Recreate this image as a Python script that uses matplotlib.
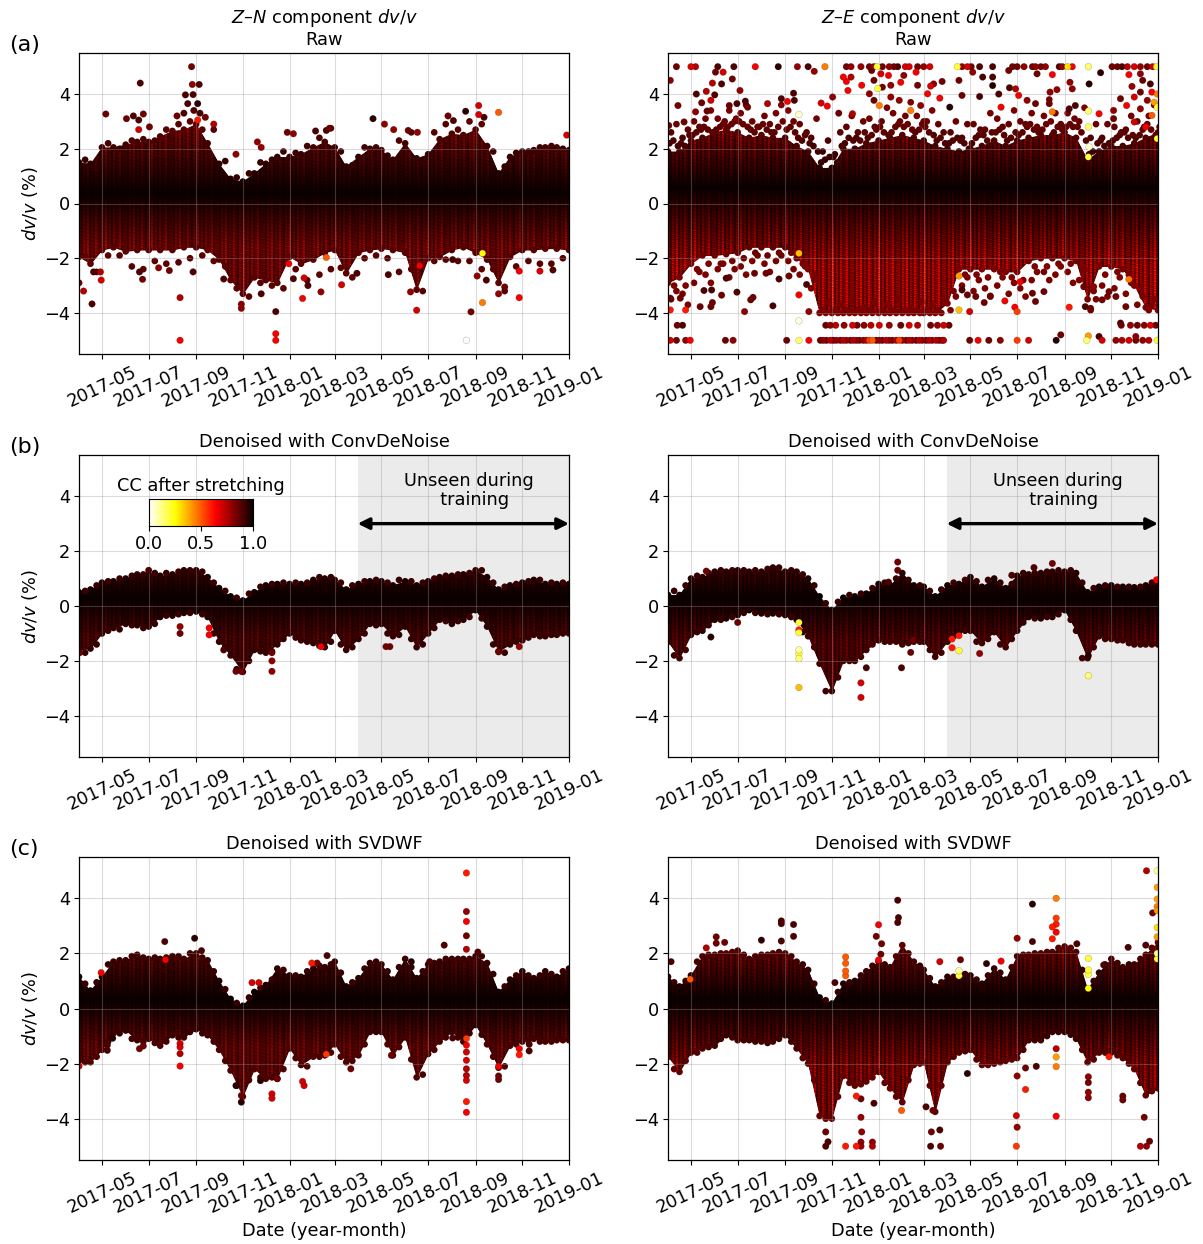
import numpy as np, pandas as pd
import matplotlib
matplotlib.use("Agg")
import matplotlib.pyplot as plt
import matplotlib.dates as mdates

START = np.datetime64("2017-04-01")
MONTHS = pd.date_range("2017-04-01", "2018-12-01", freq="MS")
KNOTS = []
for m in MONTHS:
    KNOTS += [m, m + pd.Timedelta(days=15)]
KNOTS.append(pd.Timestamp("2019-01-01"))

ZN_RAW_HI = [1.5,1.45,2.05,2.05,2.15,2.25,2.25,2.45,2.65,2.7,2.9,2.2,1.45,.9,.8,1.1,1.45,1.7,1.7,1.8,2.05,2.25,2.05,1.35,1.7,2.0,1.95,1.6,2.2,1.65,1.8,2.35,2.55,2.5,2.7,2.1,1.1,1.7,1.9,1.95,2.05,2.05,1.95]
ZN_RAW_LO = [-1.95,-2.2,-1.7,-1.6,-1.75,-1.7,-1.7,-1.7,-1.7,-1.6,-1.6,-1.7,-2.05,-2.8,-3.3,-2.7,-2.8,-2.9,-1.95,-2.2,-2.05,-1.8,-1.7,-2.55,-1.8,-1.7,-1.65,-1.7,-1.8,-3.15,-2.0,-1.95,-1.7,-1.6,-1.8,-2.05,-2.9,-1.95,-1.7,-1.7,-1.65,-1.65,-1.7]
ZN_RAW_HI2 = [1.6,1.3,2.2,2.0,2.3,2.35,2.3,2.7,2.9,3.0,2.7,2.7,1.55,.95,1.1,1.5,1.6,1.9,1.85,2.1,2.4,2.75,1.9,1.4,2.05,2.05,1.75,2.3,2.6,1.5,2.6,2.9,2.7,3.0,2.9,1.9,1.35,1.85,1.9,2.05,2.1,2.0]
ZN_RAW_LO2 = [-1.95,-2.5,-1.9,-1.9,-2.3,-2.4,-2.1,-2.2,-2.15,-2.0,-1.9,-2.1,-2.3,-3.1,-3.4,-2.9,-3.0,-3.1,-2.4,-2.8,-2.6,-2.4,-2.35,-2.7,-2.0,-1.9,-2.0,-2.5,-2.4,-3.2,-2.1,-2.05,-2.1,-2.1,-2.4,-2.4,-3.2,-2.3,-2.1,-2.2,-2.2,-2.0]
ZN_RAW_OUT = [(147,5,.85),(80,4.4,.9),(148,4.35,.8),(157,4.35,.9),(139,3.97,.9),(149,3.98,.9),(35,3.27,.85),(155,3.65,.95),(142,3.65,.9),(62,3.1,.85),(71,3.2,.9),(78,3.05,.9),(84,3.27,.85),(137,3.3,.9),(150,3.4,.9),(158,3.3,.9),(165,3.15,.85),(155,3.05,.6),(176,2.9,.75),(128,3.2,.85),(92,2.8,.85),(78,2.7,.7),(205,1.8,.8),(233,2.25,.8),(238,2.05,.8),(272,2.6,.85),(280,2.55,.8),(309,2.65,.9),(323,2.67,.9),(327,2.75,.85),(384,3.1,.95),(399,2.9,.8),(411,2.7,.8),(430,2.67,.85),(442,2.6,.8),(482,3.2,.85),(489,3.03,.9),(505,3.37,.95),(522,3.58,.7),(522,3.25,.7),(529,3.15,.9),(548,3.33,.5),(637,2.5,.7),
(0,-2.9,.85),(6,-3.2,.75),(17,-3.67,.9),(29,-2.8,.7),(28,-2.5,.75),(19,-2.5,.9),(132,-3.44,.75),(132,-5,.65),(83,-2.77,.85),(79,-2.5,.9),(104,-2.35,.8),(149,-2.5,.9),(118,-2.45,.85),(189,-2.76,.9),(212,-3.68,.8),(212,-3.83,.8),(238,-3.3,.9),(257,-3.95,.9),(257,-4.76,.65),(257,-5,.65),(274,-2.2,.65),(280,-2.75,.9),(294,-2.72,.7),(292,-3.47,.65),(299,-3.0,.9),(316,-3.23,.8),(323,-1.97,.5),(343,-2.97,.7),(363,-2.55,.9),(404,-2.6,.9),(433,-3.23,.8),(441,-3.9,.7),(445,-2.27,.65),(488,-2.05,.9),(506,-5,0.0),(512,-3.96,.85),(520,-2.65,.8),(527,-1.82,.25),(527,-3.62,.45),(532,-2.8,.9),(548,-3.3,.8),(556,-3.05,.85),(575,-3.44,.65),(575,-2.47,.65),(602,-2.47,.7),(619,-2.43,.9)]

ZE_RAW_HI = [1.9,1.9,2.3,2.4,2.6,2.7,2.6,2.4,2.5,2.4,2.4,2.1,1.9,1.3,1.3,2.0,2.0,2.2,2.3,2.4,2.5,2.4,2.3,2.1,2.0,1.9,2.0,2.1,2.3,2.1,2.3,2.4,2.5,2.5,2.6,2.4,1.6,1.9,2.1,2.1,2.2,2.4,2.6]
ZE_RAW_LO = [-2.9,-2.7,-2.2,-1.9,-1.9,-1.85,-1.8,-1.6,-1.6,-1.6,-1.6,-2.0,-2.4,-4,-4,-4,-4,-4,-4,-4,-4,-4,-4,-4,-3.65,-2.4,-2.4,-2.4,-2.4,-2.5,-2.5,-2.1,-2.0,-2.0,-2.0,-2.1,-3.5,-2.3,-2.3,-2.4,-3.0,-3.8,-3.9]
ZE_RAW_UP_A = [2.6,2.4,3.0,3.1,3.1,3.4,3.3,3.0,3.2,3.3,3.4,2.9,2.4,1.9,1.8,2.8,2.6,3.1,3.0,3.3,3.2,3.2,3.0,2.9,2.6,2.4,2.9,2.7,3.1,2.9,3.0,3.3,3.2,3.3,3.3,3.0,2.4,2.4,2.8,2.7,3.0,3.2,3.5]
ZE_RAW_UP_B = [2.9,2.7,2.8,3.4,2.9,3.0,3.6,2.8,2.9,3.6,3.0,2.5,3.1,2.3,2.6,3.2,3.0,2.8,3.5,2.9,3.7,2.9,3.4,2.6,3.0,2.9,2.5,3.3,2.8,3.4,2.9,2.8,3.8,2.9,2.8,3.5,2.9,2.9,2.5,3.2,2.7,3.6,3.1]
ZE_RAW_UP_C = [2.3,2.1,2.6,2.7,2.8,2.9,2.9,2.6,2.7,2.8,2.8,2.3,2.1,1.6,1.5,2.4,2.3,2.5,2.6,2.8,2.9,2.7,2.6,2.4,2.3,2.2,2.4,2.3,2.7,2.4,2.6,2.7,2.9,2.8,2.9,2.6,1.9,2.1,2.4,2.4,2.5,2.7,2.9]
ZE_RAW_UP_D = [2.1,2.5,2.7,2.6,3.0,3.1,2.8,2.8,2.6,3.0,2.6,2.6,1.9,1.7,2.1,2.3,2.6,2.7,2.5,3.0,2.7,3.0,2.5,2.2,2.4,2.0,2.7,2.6,2.5,2.6,2.8,2.6,3.0,2.7,3.1,2.3,2.2,2.2,2.6,2.5,2.8,2.5,3.2]
ZE_RAW_UP_E = [2.2,2.2,2.5,2.8,2.7,2.8,3.0,2.7,2.9,2.6,2.7,2.4,2.2,1.5,1.7,2.2,2.4,2.4,2.8,2.6,2.8,2.6,2.8,2.3,2.2,2.3,2.2,2.5,2.6,2.3,2.5,2.9,2.7,2.6,2.8,2.8,1.8,2.3,2.3,2.6,2.4,2.9,2.8]
ZE_RAW_LO_A = [-3.5,-3.3,-2.9,-2.6,-2.4,-2.7,-2.3,-2.1,-2.2,-2.1,-2.1,-2.6,-3.1,-3.9,-3.9,-3.9,-3.9,-3.9,-3.9,-3.9,-3.9,-3.9,-3.9,-3.9,-3.9,-3.0,-3.2,-3.1,-3.0,-3.3,-3.1,-2.8,-2.5,-2.6,-2.5,-2.8,-3.9,-3.0,-3.1,-3.3,-3.7,-3.9,-3.9]
ZE_RAW_LO_B = [-3.2,-3.7,-2.5,-2.9,-2.2,-2.4,-2.6,-1.9,-2.5,-1.9,-2.4,-2.3,-2.8,-3.6,-3.7,-3.5,-3.8,-3.6,-3.7,-3.5,-3.8,-3.6,-3.7,-3.5,-3.4,-2.7,-2.8,-3.4,-2.7,-2.9,-3.4,-2.5,-2.8,-2.3,-2.9,-2.4,-3.5,-3.4,-2.7,-2.9,-3.4,-3.5,-3.6]
ZE_RAW_LO_C = [-3.0,-3.0,-2.4,-2.2,-2.2,-2.1,-2.0,-1.8,-1.9,-1.8,-1.8,-2.2,-2.6,-4,-4,-4,-4,-4,-4,-4,-4,-4,-4,-4,-3.2,-2.6,-2.6,-2.7,-2.5,-2.7,-2.8,-2.3,-2.3,-2.2,-2.2,-2.3,-3.2,-2.6,-2.5,-2.6,-3.1,-3.7,-3.8]
ZE_RAW_TOP = [(11,.85),(30,.7),(36,.75),(65,.9),(86,.9),(114,.65),(144,.95),(169,.8),(183,.9),(205,.45),(233,.85),(239,.8),(252,.8),(263,.85),(269,.8),(273,.2),(280,.85),(289,.8),(295,.85),(300,.9),(310,.7),(315,.7),(326,.85),(334,.8),(342,.7),(378,.2),(384,.8),(391,.7),(396,.85),(407,.9),(424,.9),(450,.85),(456,.85),(465,.8),(476,.85),(480,.8),(487,.85),(493,.8),(511,.9),(515,.8),(522,.3),(528,.65),(549,.15),(580,.85),(587,.85),(593,.9),(600,.75),(609,.7),(617,.8),(626,.85),(633,.7),(638,.2)]
ZE_RAW_BOT = [(3,.7),(11,.85),(23,.8),(29,.65),(75,.85),(85,.8),(155,.85),(171,.15),(184,.65),(199,.85),(203,.8),(207,.85),(212,.75),(216,.85),(220,.8),(225,.85),(229,.75),(233,.8),(238,.85),(242,.75),(246,.8),(250,.85),(255,.8),(259,.75),(263,.55),(267,.5),(272,.85),(276,.8),(280,.85),(285,.75),(289,.8),(293,.85),(298,.75),(302,.55),(306,.8),(311,.85),(315,.75),(319,.8),(324,.85),(328,.75),(332,.8),(337,.85),(341,.75),(345,.8),(350,.75),(354,.85),(358,.8),(360,.75),(394,.85),(405,.65),(419,.85),(434,.8),(456,.55),(471,.7),(507,.95),(547,.15),(567,.7),(585,.8),(593,.75),(602,.7),(611,.85),(620,.8),(628,.75),(639,.2)]
ZE_RAW_MID = [(12,.85),(19,.9),(206,.85),(212,.8),(219,.75),(230,.8),(241,.7),(247,.85),(256,.8),(265,.75),(276,.7),(289,.8),(304,.85),(315,.7),(326,.75),(343,.85),(352,.8),(360,.7),(367,.85),(592,.85),(604,.8),(613,.85),(622,.8),(630,.7),(637,.85)]
ZE_RAW_OUT = [(3,4.5,.8),(62,4.8,.85),(72,4.8,.7),(58,4.4,.75),(70,4.37,.9),(84,4.55,.85),(37,4.0,.9),(50,4.1,.75),(61,3.97,.9),(94,4.13,.8),(44,3.68,.85),(56,3.77,.7),(13,3.58,.85),(36,3.35,.8),(51,3.38,.85),(80,3.58,.85),(90,3.65,.9),(101,3.74,.9),(104,3.52,.85),(130,3.65,.75),(148,3.83,.9),(156,3.73,.65),(164,4.03,.9),(165,3.77,.9),(171,3.25,.05),(191,4.83,.8),(200,3.67,.7),(208,3.56,.65),(215,3.89,.8),(223,3.3,.85),(229,4.62,.65),(239,4.62,.75),(233,4.46,.65),(253,4.32,.65),(235,4.13,.65),(241,3.28,.75),(269,4.5,.85),(266,4.86,.85),(288,4.68,.65),(278,4.74,.7),(280,4.25,.85),(274,4.2,.2),(291,4.32,.8),(304,4.43,.65),(308,4.68,.8),(324,4.8,.65),(326,4.32,.85),(339,4.01,.65),(347,4.37,.8),(358,4.46,.85),(343,4.29,.7),(355,3.85,.65),(263,4.01,.8),(269,3.77,.85),(276,3.58,.45),(291,3.89,.8),(302,3.77,.8),(317,3.4,.45),(330,3.58,.8),(368,3.52,.95),(384,3.95,.85),(398,4.8,.8),(407,3.91,.9),(380,4.5,.85),(411,4.62,.9),(424,4.62,.9),(424,4.31,.95),(445,4.86,.85),(446,4.23,.9),(454,4.19,.75),(458,3.95,.65),(469,3.77,.8),(480,3.65,.85),(432,4.0,.9),(435,3.52,.65),(482,4.74,.85),(502,4.71,.65),(499,4.07,.8),(508,4.16,.8),(498,3.65,.85),(502,3.35,.45),(525,4.43,.8),(528,4.19,.8),(550,4.37,.95),(565,4.78,.95),(549,3.38,.15),(549,2.8,.15),(532,3.58,.9),(524,3.46,.9),(550,2.07,.05),(549,1.7,.2),(602,4.71,.65),(617,4.74,.8),(620,4.5,.85),(606,4.28,.8),(630,4.37,.9),(617,4.07,.85),(632,4.07,.65),(591,3.83,.85),(609,3.89,.7),(626,3.77,.8),(635,3.7,.4),(582,3.4,.8),(599,3.58,.65),(617,3.46,.8),(632,3.22,.5),(639,3.52,.2),(639,4.0,.45),(639,2.37,.2),(563,3.28,.65),(582,3.1,.85),(609,2.98,.7),(624,2.8,.65),(1,2.85,.85),(21,2.98,.85),
(47,-3.18,.9),(57,-3.16,.9),(90,-3.24,.9),(70,-3.35,.85),(42,-3.77,.85),(56,-3.77,.85),(58,-3.62,.85),(108,-3.52,.85),(111,-3.43,.85),(100,-3.95,.8),(137,-3.74,.9),(76,-2.73,.9),(113,-2.55,.85),(128,-2.55,.85),(145,-2.76,.9),(158,-2.65,.85),(171,-3.34,.65),(181,-2.96,.9),(184,-3.95,.8),(171,-4.29,.03),(3,-3.46,.85),(16,-3.46,.85),(3,-3.89,.6),(23,-3.89,.6),(171,-1.82,.35),(380,-2.65,.4),(380,-3.89,.35),(394,-3.95,.7),(384,-3.16,.9),(391,-3.34,.85),(402,-3.4,.85),(413,-3.62,.85),(421,-3.38,.85),(440,-3.56,.65),(453,-3.79,.65),(456,-3.95,.55),(460,-2.86,.65),(476,-3.28,.85),(480,-3.58,.85),(491,-3.22,.85),(524,-3.79,.6),(543,-3.04,.85),(545,-3.77,.9),(552,-3.83,.85),(556,-3.04,.8),(567,-3.52,.85),(576,-3.22,.85),(585,-3.4,.85),(598,-3.77,.85),(602,-2.77,.45),(591,-4.37,.9),(611,-4.86,.8),(513,-4.8,.85),(549,-4.84,.4),(563,-4.86,.9)]

ZN_CONV_HI = [.5,.6,.85,.9,1.0,1.15,1.15,1.1,1.15,1.3,1.3,1.05,.65,.35,.2,.5,.75,.8,.8,.8,.95,1.0,.95,.6,.8,.9,.9,.75,.9,.75,.9,1.05,1.1,1.15,1.3,1.05,.6,.75,.85,.95,.8,.8,.8]
ZN_CONV_LO = [-1.6,-1.55,-1.0,-.8,-.65,-.7,-.75,-.4,-.35,-.25,-.2,-.4,-1.3,-1.8,-2.4,-1.6,-1.7,-1.4,-1.0,-1.25,-1.35,-1.5,-.9,-1.6,-1.2,-.65,-.65,-1.1,-.75,-1.5,-1.0,-.5,-.65,-.5,-.15,-.75,-1.65,-1.4,-1.25,-1.05,-1.1,-1.05,-1.0]
ZN_CONV_HI2 = [.55,.75,.9,1.0,1.1,1.15,1.2,1.2,1.25,1.3,1.25,.85,.55,.3,.45,.7,.8,.85,.85,.85,1.05,1.05,.85,.75,.9,.95,.85,.95,.9,.85,1.0,1.1,1.15,1.2,1.3,.85,.7,.8,.9,.95,.85,.85]
ZN_CONV_LO2 = [-1.7,-1.4,-.9,-.85,-.7,-.8,-.65,-.35,-.3,-.25,-.3,-1.0,-1.5,-2.3,-2.0,-1.65,-1.65,-1.2,-1.15,-1.3,-1.45,-1.3,-1.4,-1.5,-1.0,-.7,-1.0,-1.05,-1.2,-1.4,-.8,-.55,-.55,-.4,-.45,-1.4,-1.7,-1.3,-1.15,-1.1,-1.05,-1.0]
ZN_CONV_OUT = [(91,1.3,.9),(132,-.75,.8),(132,-1.0,.85),(170,-.8,.65),(170,-1.05,.65),(189,-1.6,.9),(252,-1.7,.85),(252,-2.0,.8),(252,-2.38,.8),(316,-1.48,.65),(406,-1.48,.85),(401,-1.48,.85),(548,-1.67,.85),(575,-1.48,.8),(1,-1.7,.85),(205,-2.38,.85),(212,-2.38,.85)]

ZE_CONV_HI = [.4,.4,1.0,1.05,1.25,1.25,1.3,1.25,1.25,1.4,1.25,1.25,1.0,.35,-.15,.3,.35,.45,.8,.75,1.2,.75,.7,.35,.75,.8,1.05,.7,1.0,.65,1.1,1.15,1.2,1.25,1.25,1.2,.5,.7,.75,.7,.68,.75,.95]
ZE_CONV_LO = [-1.3,-1.9,-1.05,-.9,-.5,-.45,-.33,-.15,-.27,-.27,-.33,-.5,-1.1,-2.1,-3.1,-2.0,-2.0,-1.6,-1.25,-1.3,-1.4,-1.3,-1.3,-1.85,-1.3,-.95,-.9,-1.35,-.95,-1.5,-.9,-.4,-.45,-.4,-.15,-.9,-1.9,-1.1,-1.2,-1.25,-1.4,-1.4,-1.4]
ZE_CONV_HI2 = [.55,.75,1.1,1.2,1.3,1.3,1.3,1.3,1.35,1.4,1.3,1.15,.75,.1,.15,.4,.45,.65,.85,1.0,.95,.75,.55,.6,.85,.95,.9,.95,.85,.8,1.2,1.2,1.25,1.3,1.3,.85,.65,.75,.7,.7,.7,.85]
ZE_CONV_LO2 = [-1.8,-1.6,-.95,-.7,-.5,-.4,-.25,-.25,-.3,-.3,-.4,-.95,-1.5,-3.1,-2.6,-2.0,-1.85,-1.4,-1.3,-1.3,-1.35,-1.3,-1.6,-1.7,-1.1,-.9,-1.3,-1.2,-1.4,-1.2,-.6,-.45,-.4,-.3,-.5,-1.9,-1.5,-1.2,-1.25,-1.35,-1.4,-1.4]
ZE_CONV_OUT = [(50,1.27,.85),(300,1.6,.85),(300,1.3,.85),(288,.87,.9),(449,1.12,.9),(478,1.4,.9),(502,1.55,.85),(638,.95,.65),(56,-1.13,.95),(91,-.6,.85),(171,-.6,.2),(171,-.87,.6),(171,-.97,.2),(171,-1.6,.1),(171,-1.73,.2),(171,-1.92,.15),(171,-2.97,.35),(252,-2.8,.7),(252,-3.33,.7),(259,-2.25,.9),(305,-2.25,.9),(317,-1.69,.85),(320,-1.24,.85),(371,-1.2,.6),(371,-1.52,.6),(380,-1.08,.6),(380,-1.63,.2),(549,-2.54,.15),(549,-1.81,.95),(407,-1.73,.8)]

ZN_SVD_HI = [1.15,.65,1.15,1.7,1.75,1.95,1.8,1.8,1.9,1.8,2.0,1.75,1.0,.35,.1,.6,.85,1.45,1.2,1.15,1.45,1.5,1.7,.8,1.1,1.65,1.6,1.05,1.8,1.1,1.6,1.7,1.8,1.8,1.9,1.65,.6,1.05,1.35,1.1,1.35,1.15,1.45]
ZN_SVD_LO = [-1.9,-1.95,-1.5,-.9,-.8,-1.15,-1.1,-1.35,-.97,-1.05,-.75,-.97,-1.5,-2.25,-3.2,-2.2,-2.55,-2.55,-1.45,-2.05,-1.75,-1.7,-1.3,-1.95,-1.7,-.85,-.85,-1.7,-1.05,-2.5,-1.65,-1.2,-.85,-1.2,-.6,-1.3,-2.15,-1.35,-1.2,-1.1,-1.2,-1.15,-1.15]
ZN_SVD_HI2 = [.9,.95,1.6,1.75,1.9,1.85,1.85,1.85,1.9,2.0,1.85,1.35,.7,.2,.4,.75,1.05,1.4,1.2,1.35,1.55,1.6,1.3,.95,1.45,1.7,1.35,1.5,1.5,1.35,1.65,1.8,1.8,1.8,1.9,1.25,.8,1.2,1.2,1.2,1.25,1.35]
ZN_SVD_LO2 = [-1.95,-1.75,-1.2,-.9,-1.1,-1.2,-1.25,-1.2,-1.05,-.85,-.9,-1.2,-1.9,-2.8,-2.6,-2.5,-2.5,-2.2,-1.8,-2.1,-1.75,-1.6,-1.75,-1.9,-1.3,-.85,-1.3,-1.4,-1.85,-2.4,-1.5,-1.05,-1.05,-.9,-.95,-1.75,-2.1,-1.3,-1.15,-1.2,-1.2,-1.15]
ZN_SVD_OUT = [(506,4.92,.6),(506,3.52,.8),(506,3.16,.65),(506,2.64,.85),(506,2.15,.75),(112,2.43,.9),(151,2.55,.95),(160,2.1,.9),(113,1.77,.65),(324,1.92,.9),(304,1.65,.6),(311,1.65,.85),(477,2.3,.9),(521,2.05,.9),(434,1.7,.95),(458,1.7,.9),(226,.94,.7),(235,.94,.7),(29,1.3,.65),
(132,-1.27,.7),(132,-1.4,.7),(132,-1.64,.75),(132,-2.09,.65),(37,-1.33,.9),(37,-1.52,.9),(44,-1.08,.95),(79,-1.46,.85),(84,-1.36,.85),(506,-1.09,.55),(506,-1.33,.65),(506,-1.58,.7),(506,-1.88,.7),(506,-2.19,.75),(506,-2.43,.75),(506,-2.61,.7),(506,-3.38,.6),(506,-3.77,.65),(212,-3.4,.95),(212,-3.16,.85),(205,-2.8,.95),(252,-3.1,.7),(252,-3.26,.7),(292,-2.65,.7),(294,-2.8,.7),(237,-2.62,.95),(259,-2.55,.85),(355,-2.19,.85),(548,-2.1,.65),(548,-2.45,.85),(548,-2.58,.85),(575,-1.46,.65),(575,-1.68,.6),(588,-1.3,.9),(588,-1.54,.9),(323,-1.66,.55),(0,-2.09,.7),(408,-1.7,.85),(488,-1.07,.9)]

ZE_SVD_HI = [1.15,.8,1.2,1.9,1.95,2.0,2.1,1.8,1.95,2.0,2.0,1.7,1.4,.4,.18,.9,1.0,1.35,1.7,1.5,2.3,1.7,1.4,.8,1.15,1.15,1.2,.9,1.45,1.05,1.9,1.95,2.0,2.05,2.25,2.05,.7,1.3,1.8,1.5,1.6,1.95,2.4]
ZE_SVD_LO = [-1.75,-2.3,-1.6,-1.45,-1.35,-.97,-1.15,-1.15,-1.2,-1.2,-.97,-1.45,-2.0,-3.9,-4.0,-2.45,-2.8,-2.65,-2.3,-2.9,-3.4,-2.05,-1.95,-3.75,-1.95,-1.6,-1.5,-2.05,-2.0,-1.9,-1.8,-1.15,-1.15,-.85,-.85,-1.1,-1.95,-1.6,-1.6,-1.8,-2.2,-3.15,-2.9]
ZE_SVD_HI2 = [.95,1.0,1.7,1.95,2.0,2.05,1.95,1.9,1.95,2.05,1.9,1.6,.9,.3,.6,.95,1.2,1.55,1.6,1.9,2.0,1.55,1.1,.95,1.15,1.25,1.05,1.2,1.3,1.5,1.95,2.0,2.05,2.2,2.2,1.4,1.0,1.6,1.65,1.6,1.8,2.2]
ZE_SVD_LO2 = [-2.2,-1.9,-1.6,-1.4,-1.1,-1.05,-1.15,-1.2,-1.25,-1.1,-1.2,-1.8,-2.6,-4,-3.2,-2.7,-2.75,-2.5,-2.7,-3.2,-2.6,-2.0,-2.8,-2.8,-1.75,-1.55,-1.85,-2.05,-1.95,-1.85,-1.5,-1.15,-1.0,-.85,-.95,-1.5,-1.85,-1.6,-1.7,-2.0,-2.7,-3.0]
ZE_SVD_OUT = [(625,5,.75),(639,5,.1),(639,4.4,.4),(639,3.97,.4),(639,3.7,.45),(639,3.55,.4),(633,3.47,.85),(639,2.94,.3),(639,2.6,.4),(639,1.8,.2),(639,2.0,.1),(300,3.93,.9),(301,3.3,.9),(300,3.12,.9),(275,3.04,.65),(272,2.62,.85),(279,2.35,.85),(278,1.97,.85),(275,1.76,.65),(148,3.18,.9),(148,3.08,.9),(164,3.05,.9),(164,2.62,.9),(148,2.45,.9),(122,2.48,.95),(63,2.6,.85),(63,2.37,.85),(74,2.4,.85),(50,2.2,.75),(4,1.7,.9),(232,1.87,.5),(232,1.64,.5),(232,1.36,.5),(232,1.19,.5),(218,.94,.9),(355,1.7,.7),(382,1.77,.85),(380,1.37,.1),(380,1.19,.2),(416,1.63,.95),(435,1.72,.65),(456,2.55,.8),(476,3.79,.95),(476,2.43,.9),(507,4.0,.45),(507,3.28,.55),(507,3.06,.6),(502,2.96,.6),(507,2.77,.65),(502,2.53,.6),(549,1.82,.2),(549,1.4,.2),(549,1.24,.2),(549,.73,.25),(569,1.58,.9),(601,2.22,.9),(624,2.3,.9),(534,2.35,.9),(29,1.06,.5),
(206,-5,.9),(209,-4.84,.9),(206,-4.48,.85),(232,-5,.6),(246,-5,.6),(252,-5,.8),(252,-4.85,.8),(253,-4.48,.8),(252,-3.95,.8),(267,-5,.75),(267,-4.85,.8),(269,-3.44,.9),(305,-3.7,.5),(246,-3.18,.6),(252,-3.28,.85),(343,-5,.9),(356,-5,.85),(344,-4.48,.85),(355,-4.41,.9),(346,-3.7,.85),(337,-3.57,.9),(455,-5,.55),(456,-4.31,.8),(455,-3.89,.7),(507,-3.91,.65),(467,-2.94,.6),(456,-2.45,.8),(467,-2.16,.85),(481,-2.1,.9),(391,-2.36,.95),(507,-1.76,.4),(507,-2.11,.45),(507,-1.46,.75),(549,-2.48,.8),(549,-2.69,.85),(549,-3.04,.8),(549,-3.24,.8),(576,-1.75,.6),(594,-3.18,.85),(594,-3.32,.85),(622,-3.95,.85),(617,-5,.75),(625,-5,.8),(629,-4.82,.85)]

TICK_MONTHS = pd.date_range("2017-05-01", "2019-01-01", freq="2MS")
TICK_LABELS = [d.strftime("%Y-%m") for d in TICK_MONTHS]
TITLES = [["$Z$–$N$ component $dv/v$\nRaw", "$Z$–$E$ component $dv/v$\nRaw"],
          ["Denoised with ConvDeNoise", "Denoised with ConvDeNoise"],
          ["Denoised with SVDWF", "Denoised with SVDWF"]]

# styling only: tiled shading that gives the dense cloud its vertical streaks
STREAK_COL = [.1,-.4,.5,-.2,.9,-.5,.2,-.3,.7,.0,-.5,.4,-.1,1.1,-.4,.3,-.5,.6,-.2,.1,.8,-.4,0]
STREAK_ROW = [.2,-.2,.4,-.3,0,.5,-.4,.1,-.1,.3,-.3]

FS = 12.75
plt.rcParams["font.family"] = "DejaVu Sans"
plt.rcParams["font.size"] = FS
plt.rcParams["mathtext.default"] = "it"
W, H = 1203, 1244
fig = plt.figure(figsize=(W/100, H/100), dpi=100)
CMAP = "hot_r"
S = 23

def axes_at(x0, y0, x1, y1):
    return fig.add_axes([x0/W, 1-y1/H, (x1-x0)/W, (y1-y0)/H])

def to_dates(days):
    return START + np.array(days, dtype="timedelta64[D]")

def offset(vals, days):
    k = [t + pd.Timedelta(days=days) for t in KNOTS]
    n = min(len(vals), len(k))
    return k[:n], list(vals)[:n]

def draw(ax, hi, lo, out, shape, edges, extra=()):
    kn = mdates.date2num(KNOTS)
    poly = ax.fill_between(KNOTS, lo, hi, color="#3a0000", lw=0, zorder=2)
    ys = np.linspace(5.5, -5.5, 302)
    c, ku, kd, cap = shape
    d = np.minimum(np.where(ys > c, ku*(ys-c), kd*(c-ys)), cap)
    cols = np.repeat(np.resize(STREAK_COL, 245), 2)
    ii, jj = np.meshgrid(np.arange(cols.size), np.arange(ys.size))
    speck = np.array(STREAK_ROW)[(jj + 7*(ii//2)) % len(STREAK_ROW)]
    cc = 1 - d[:, None]*(1+.8*cols[None, :])*(1+.6*speck)
    im = ax.imshow(cc, cmap=CMAP, vmin=0, vmax=1, aspect="auto",
                   extent=[kn[0], kn[-1], -5.5, 5.5], zorder=2.1, interpolation="nearest")
    im.set_clip_path(poly.get_paths()[0], ax.transData)
    def shade(v):
        return [1-min(ku*max(x-c, 0)+kd*max(c-x, 0), cap) for x in v]
    ax.scatter(KNOTS, hi, c=shade(hi), cmap=CMAP, vmin=0, vmax=1, s=S, lw=0, zorder=2.2)
    ax.scatter(KNOTS, lo, c=shade(lo), cmap=CMAP, vmin=0, vmax=1, s=S, lw=0, zorder=2.2)
    for days, vals in edges:
        t, v = offset(vals, days)
        ax.scatter(t, v, c=[min(x, .93) for x in shade(v)], cmap=CMAP, vmin=0, vmax=1, s=S, lw=0, zorder=2.3)
    pts = list(out) + list(extra)
    dd = [p[0] for p in pts]; v = [p[1] for p in pts]; cv = [p[2] for p in pts]
    order = np.argsort(cv)[::-1]
    ax.scatter(to_dates(np.array(dd)[order]), np.array(v)[order], c=np.array(cv)[order], cmap=CMAP, vmin=0, vmax=1,
               s=S, edgecolors=(0, 0, 0, .35), linewidths=.3, zorder=3)

XL = [79, 668]; XR = [569, 1158]
YT = [53, 455, 857]; YB = [354, 757, 1160]
panels = [[(ZN_RAW_HI, ZN_RAW_LO, ZN_RAW_OUT, (.4, .05, .06, .12), [(8, ZN_RAW_HI2), (8, ZN_RAW_LO2)]),
           (ZE_RAW_HI, ZE_RAW_LO, ZE_RAW_OUT, (.6, .06, .06, .17), [(4, ZE_RAW_UP_A), (11, ZE_RAW_UP_B), (7, ZE_RAW_UP_C), (13, ZE_RAW_UP_D), (2, ZE_RAW_UP_E), (4, ZE_RAW_LO_A), (11, ZE_RAW_LO_B), (8, ZE_RAW_LO_C)])],
          [(ZN_CONV_HI, ZN_CONV_LO, ZN_CONV_OUT, (.3, .05, .05, .07), [(8, ZN_CONV_HI2), (8, ZN_CONV_LO2)]),
           (ZE_CONV_HI, ZE_CONV_LO, ZE_CONV_OUT, (.3, .05, .05, .08), [(8, ZE_CONV_HI2), (8, ZE_CONV_LO2)])],
          [(ZN_SVD_HI, ZN_SVD_LO, ZN_SVD_OUT, (.3, .05, .06, .1), [(8, ZN_SVD_HI2), (8, ZN_SVD_LO2)]),
           (ZE_SVD_HI, ZE_SVD_LO, ZE_SVD_OUT, (.3, .06, .055, .13), [(8, ZE_SVD_HI2), (8, ZE_SVD_LO2)])]]

for r in range(3):
    for col in range(2):
        ax = axes_at(XL[col], YT[r], XR[col], YB[r])
        hi, lo, out, shape, edges = panels[r][col]
        extra = []
        if r == 0 and col == 1:
            extra = [(d, 5, c) for d, c in ZE_RAW_TOP] + [(d, -5, c) for d, c in ZE_RAW_BOT] + [(d, -4.45, c) for d, c in ZE_RAW_MID]
        draw(ax, hi, lo, out, shape, edges, extra)
        ax.set_xlim(pd.Timestamp("2017-04-01"), pd.Timestamp("2019-01-01"))
        ax.set_ylim(-5.5, 5.5)
        ax.set_yticks([-4, -2, 0, 2, 4])
        ax.set_yticklabels(["−4", "−2", "0", "2", "4"])
        ax.set_xticks(TICK_MONTHS)
        ax.set_xticklabels(TICK_LABELS, rotation=25, ha="center")
        ax.tick_params(labelsize=FS, length=3.5, width=.8, pad=3)
        ax.set_axisbelow(False)
        ax.grid(True, color="#999999", alpha=.35, lw=.8, zorder=5)
        ax.set_title(TITLES[r][col], fontsize=FS, pad=6, linespacing=1.15)
        if col == 0:
            ax.set_ylabel("$dv/v$ (%)", fontsize=FS, labelpad=3)
        if r == 2:
            ax.set_xlabel("Date (year-month)", fontsize=FS, labelpad=4)
        for s in ax.spines.values():
            s.set_zorder(6); s.set_linewidth(.9)
        if r == 1:
            ax.axvspan(pd.Timestamp("2018-04-01"), pd.Timestamp("2019-01-01"), color="#ebebeb", lw=0, zorder=0)
            ax.annotate("", xy=(pd.Timestamp("2018-03-31"), 3.0), xytext=(pd.Timestamp("2019-01-01"), 3.0),
                        arrowprops=dict(arrowstyle="<|-|>", color="k", lw=2.4, mutation_scale=17, shrinkA=0, shrinkB=0), zorder=7)
            ax.text(pd.Timestamp("2018-08-23"), 4.2, "Unseen during\n  training", ha="center", va="center", fontsize=FS, linespacing=1.1, zorder=7)
            if col == 0:
                cax = fig.add_axes([149/W, 1-526/H, 104/W, 27/H], zorder=10)
                g = np.linspace(0, 1, 256)[None, :]
                cax.imshow(g, cmap=CMAP, aspect="auto", extent=[0, 1, 0, 1])
                cax.set_yticks([])
                cax.set_xticks([0, .5, 1]); cax.set_xticklabels(["0.0", "0.5", "1.0"])
                cax.tick_params(labelsize=FS, length=3.5, width=.8, pad=3)
                cax.set_title("CC after stretching", fontsize=FS, pad=6)

for lab, y in zip(["(a)", "(b)", "(c)"], [45, 447, 849]):
    fig.text(9/W, 1-y/H, lab, fontsize=16, va="center", ha="left")

fig.savefig("out.png", dpi=100)
